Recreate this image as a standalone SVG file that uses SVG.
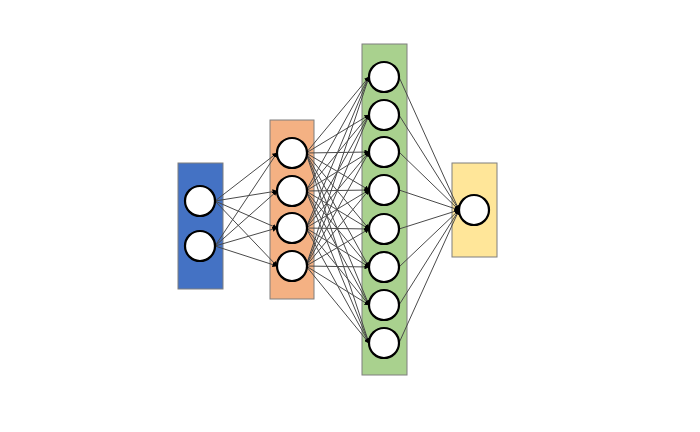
<svg xmlns="http://www.w3.org/2000/svg" width="700" height="432" viewBox="0 0 700 432">
<style>
.layer{stroke:#7f7f7f;stroke-width:1}
.n{fill:#fff;stroke:#000;stroke-width:2.2}
.c{stroke:#4a4a4a;stroke-width:1;fill:none;marker-end:url(#ah)}
</style>
<defs>
<marker id="ah" viewBox="0 0 10 10" refX="9" refY="5" markerWidth="5" markerHeight="5" markerUnits="userSpaceOnUse" orient="auto">
<path d="M0,0 L10,5 L0,10 z" fill="#000"/>
</marker>
</defs>
<rect width="700" height="432" fill="#fff"/>
<g id="layer-input"><rect class="layer" x="178" y="163" width="45" height="126" fill="#4472C4"/></g>
<g id="layer-hidden1"><rect class="layer" x="270" y="120" width="44" height="179" fill="#F4B183"/></g>
<g id="layer-hidden2"><rect class="layer" x="362" y="44" width="45" height="331" fill="#A9D18E"/></g>
<g id="layer-output"><rect class="layer" x="452" y="163" width="45" height="94" fill="#FFE699"/></g>
<g id="connectors">
<path class="c" d="M215,201 L277,153"/><path class="c" d="M215,201 L277,191"/><path class="c" d="M215,201 L277,228"/><path class="c" d="M215,201 L277,266"/>
<path class="c" d="M215,246 L277,153"/><path class="c" d="M215,246 L277,191"/><path class="c" d="M215,246 L277,228"/><path class="c" d="M215,246 L277,266"/>
<path class="c" d="M306,153 L369,77"/><path class="c" d="M306,153 L369,115"/><path class="c" d="M306,153 L369,152"/><path class="c" d="M306,153 L369,190"/><path class="c" d="M306,153 L369,229"/><path class="c" d="M306,153 L369,267"/><path class="c" d="M306,153 L369,305"/><path class="c" d="M306,153 L369,343"/>
<path class="c" d="M306,191 L369,77"/><path class="c" d="M306,191 L369,115"/><path class="c" d="M306,191 L369,152"/><path class="c" d="M306,191 L369,190"/><path class="c" d="M306,191 L369,229"/><path class="c" d="M306,191 L369,267"/><path class="c" d="M306,191 L369,305"/><path class="c" d="M306,191 L369,343"/>
<path class="c" d="M306,228 L369,77"/><path class="c" d="M306,228 L369,115"/><path class="c" d="M306,228 L369,152"/><path class="c" d="M306,228 L369,190"/><path class="c" d="M306,228 L369,229"/><path class="c" d="M306,228 L369,267"/><path class="c" d="M306,228 L369,305"/><path class="c" d="M306,228 L369,343"/>
<path class="c" d="M306,266 L369,77"/><path class="c" d="M306,266 L369,115"/><path class="c" d="M306,266 L369,152"/><path class="c" d="M306,266 L369,190"/><path class="c" d="M306,266 L369,229"/><path class="c" d="M306,266 L369,267"/><path class="c" d="M306,266 L369,305"/><path class="c" d="M306,266 L369,343"/>
<path class="c" d="M399,77 L459,210"/><path class="c" d="M399,115 L459,210"/><path class="c" d="M399,152 L459,210"/><path class="c" d="M399,190 L459,210"/><path class="c" d="M399,229 L459,210"/><path class="c" d="M399,267 L459,210"/><path class="c" d="M399,305 L459,210"/><path class="c" d="M399,343 L459,210"/>
</g>
<g id="in-1"><circle class="n" cx="200" cy="201" r="15"/></g>
<g id="in-2"><circle class="n" cx="200" cy="246" r="15"/></g>
<g id="h1-1"><circle class="n" cx="292" cy="153" r="15"/></g>
<g id="h1-2"><circle class="n" cx="292" cy="191" r="15"/></g>
<g id="h1-3"><circle class="n" cx="292" cy="228" r="15"/></g>
<g id="h1-4"><circle class="n" cx="292" cy="266" r="15"/></g>
<g id="h2-1"><circle class="n" cx="384" cy="77" r="15"/></g>
<g id="h2-2"><circle class="n" cx="384" cy="115" r="15"/></g>
<g id="h2-3"><circle class="n" cx="384" cy="152" r="15"/></g>
<g id="h2-4"><circle class="n" cx="384" cy="190" r="15"/></g>
<g id="h2-5"><circle class="n" cx="384" cy="229" r="15"/></g>
<g id="h2-6"><circle class="n" cx="384" cy="267" r="15"/></g>
<g id="h2-7"><circle class="n" cx="384" cy="305" r="15"/></g>
<g id="h2-8"><circle class="n" cx="384" cy="343" r="15"/></g>
<g id="out-1"><circle class="n" cx="474" cy="210" r="15"/></g>
</svg>
